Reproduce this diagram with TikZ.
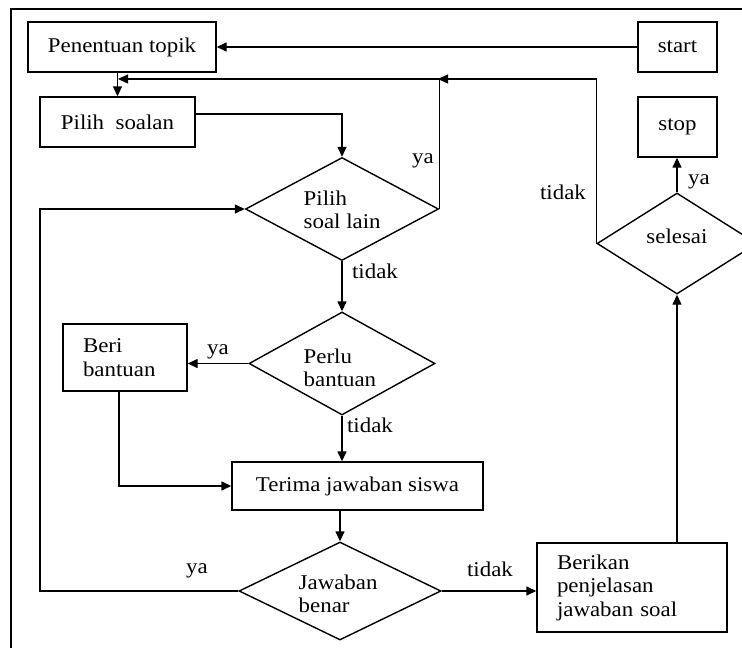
\documentclass[tikz,border=0pt]{standalone}
\usepackage{fontspec}
\setmainfont{Liberation Serif}[FakeStretch=1.09]
\usetikzlibrary{arrows.meta,shapes.geometric}
\newcommand{\tf}{\fontsize{21}{23.5}\selectfont}
\begin{document}
\begin{tikzpicture}[x=1pt,y=-1pt,line width=1.4pt,
  box/.style={draw, rectangle, inner sep=0pt, font=\tf},
  dia/.style={draw, diamond, inner sep=0pt},
  txt/.style={inner sep=0pt, font=\tf, align=left},
  lbl/.style={inner sep=0pt, font=\tf},
  arr/.style={-{Triangle[length=10pt,width=9pt]}}]
\useasboundingbox (0,0) rectangle (742,648);
% frame
\draw (11,670) -- (11,9) -- (760,9);
% boxes
\node[box, minimum width=188pt, minimum height=50pt] (pen) at (122,47) {Penentuan topik};
\node[box, minimum width=79pt, minimum height=50pt] (start) at (677.5,47) {start};
\node[box, minimum width=155pt, minimum height=50pt] (ps) at (117.5,122) {Pilih~~soalan};
\node[box, minimum width=79pt, minimum height=60pt] (stop) at (677.5,127) {stop};
\node[box, minimum width=124pt, minimum height=67pt, text width=84pt, align=left] (beri) at (125,357.5) {Beri\\bantuan};
\node[box, minimum width=251pt, minimum height=48pt] (ter) at (357.5,486) {Terima jawaban siswa};
\node[box, minimum width=190pt, minimum height=89pt, text width=150pt, align=left] (ber) at (632,587.5) {Berikan\\penjelasan\\jawaban soal};
% diamonds
\node[dia, minimum width=193pt, minimum height=103pt] (d1) at (342,209) {};
\node[txt, anchor=west] (t1) at (303,210) {Pilih\\soal lain};
\node[dia, minimum width=186pt, minimum height=103pt] (d2) at (342,363.5) {};
\node[txt, anchor=west] (t2) at (303,368) {Perlu\\bantuan};
\node[dia, minimum width=202pt, minimum height=98pt] (d3) at (340,591) {};
\node[txt, anchor=west] (t3) at (298,594) {Jawaban\\benar};
\node[dia, minimum width=160pt, minimum height=101pt] (d4) at (677,243.5) {};
\node[txt] (t4) at (677,236) {selesai};
% junctions
\coordinate (j1) at (118,79);
\coordinate (j2) at (438,79);
\coordinate (lx) at (40,0);
% connectors
\draw[arr] (start.west) -- (pen.east);
\draw[arr] (pen.south -| ps.north) -- (ps.north);
\draw[arr] ([yshift=8pt]ps.east) -| (d1.north);
\draw[arr] (d1.east) |- (j1);
\draw[arr] (d4.west) |- (j2);
\draw[arr] (d1.south) -- (d2.north);
\draw[arr] (d2.west) -- (d2.west -| beri.east);
\draw[arr] (d2.south) -- (d2.south |- ter.north);
\draw[arr] ([xshift=-6pt]beri.south) |- (ter.west);
\draw[arr] (ter.south -| d3.north) -- (d3.north);
\draw[arr] (d3.west) -- (d3.west -| lx) |- (d1.west);
\draw[arr] (d3.east) -- (d3.east -| ber.west);
\draw[arr] (d4.south |- ber.north) -- (d4.south);
\draw[arr] (d4.north) -- (d4.north |- stop.south);
% labels
\node[lbl] (l1) at (423,161) {ya};
\node[lbl] (l2) at (563,192) {tidak};
\node[lbl] (l3) at (699,182) {ya};
\node[lbl] (l4) at (375,271) {tidak};
\node[lbl] (l5) at (218,352) {ya};
\node[lbl] (l6) at (370,425) {tidak};
\node[lbl] (l7) at (197,571) {ya};
\node[lbl] (l8) at (490,569) {tidak};
\end{tikzpicture}
\end{document}
